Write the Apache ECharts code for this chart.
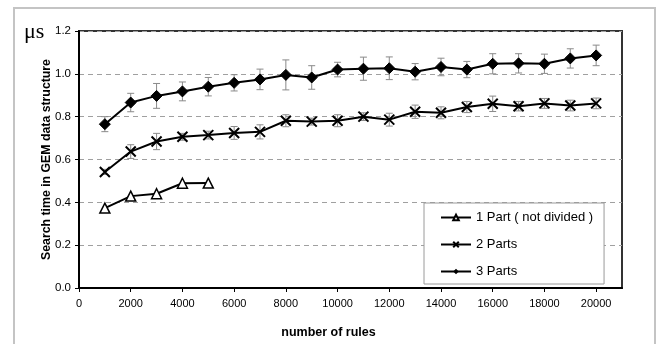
<!DOCTYPE html>
<html>
<head>
<meta charset="utf-8">
<script src="https://cdn.jsdelivr.net/npm/echarts@6/dist/echarts.min.js"></script>
<style>html,body{margin:0;padding:0;background:#fff}#c{width:662px;height:344px}</style>
</head>
<body>
<div id="c"></div>
<script>
const rules = [1000,2000,3000,4000,5000,6000,7000,8000,9000,10000,11000,12000,13000,14000,15000,16000,17000,18000,19000,20000];
const part1 = [0.373,0.429,0.440,0.489,0.490];
const part2 = [0.542,0.637,0.684,0.706,0.714,0.724,0.729,0.781,0.777,0.781,0.800,0.786,0.823,0.818,0.845,0.860,0.849,0.862,0.852,0.862];
const part2Err = [0.012,0.032,0.038,0.016,0.018,0.030,0.033,0.028,0.016,0.028,0.018,0.030,0.031,0.028,0.026,0.036,0.022,0.023,0.025,0.025];
const part3 = [0.765,0.866,0.897,0.918,0.940,0.958,0.974,0.995,0.983,1.020,1.024,1.026,1.010,1.032,1.020,1.047,1.049,1.047,1.072,1.086];
const part3Err = [0.035,0.043,0.058,0.044,0.043,0.038,0.048,0.070,0.055,0.034,0.054,0.053,0.038,0.041,0.038,0.047,0.045,0.045,0.045,0.048];
const names = ['1 Part ( not divided )','2 Parts','3 Parts'];
const xTicks = [0,2000,4000,6000,8000,10000,12000,14000,16000,18000,20000];

const pts = (ys) => ys.map((v,i)=>[rules[i], v]);
const errs = (ys, es) => ys.map((v,i)=>[rules[i], v, es[i]]);

function errRender(params, api){
  const x = api.value(0), y = api.value(1), e = api.value(2);
  const t = api.coord([x, y+e]), b = api.coord([x, y-e]);
  const hw = 3.5, st = {stroke:'#8a8a8a', lineWidth:1};
  return {type:'group', children:[
    {type:'line', shape:{x1:t[0],y1:t[1],x2:b[0],y2:b[1]}, style:st},
    {type:'line', shape:{x1:t[0]-hw,y1:t[1],x2:t[0]+hw,y2:t[1]}, style:st},
    {type:'line', shape:{x1:b[0]-hw,y1:b[1],x2:b[0]+hw,y2:b[1]}, style:st}
  ]};
}

const chart = echarts.init(document.getElementById('c'), null, {renderer:'canvas'});
const FONT = 'Liberation Sans, Arial, sans-serif';
chart.setOption({
  animation:false,
  backgroundColor:'#fff',
  textStyle:{fontFamily:FONT},
  graphic:[
    {type:'rect', shape:{x:14,y:8,width:641,height:350}, style:{fill:'none', stroke:'#c4c4c4', lineWidth:2}, z:-10},
    {type:'text', left:24, top:21, style:{text:'μs', font:'22px "Liberation Serif", "DejaVu Serif", serif', fill:'#000'}}
  ],
  grid:{left:79, top:31, right:40, bottom:53, show:true, borderColor:'#333', borderWidth:2, backgroundColor:'transparent'},
  legend:{
    data:names, orient:'vertical', left:424, top:203,
    backgroundColor:'#fff', borderColor:'#9a9a9a', borderWidth:1,
    padding:[8,11,6,16], itemGap:14, itemWidth:30, itemHeight:7,
    textStyle:{fontSize:13, color:'#000', fontFamily:FONT}
  },
  xAxis:{
    type:'value', min:0, max:21000, interval:2000,
    name:'number of rules', nameLocation:'middle', nameGap:38, nameMoveOverlap:false,
    nameTextStyle:{fontWeight:'bold', fontSize:12.5, color:'#000', padding:[0,44,0,0]},
    axisLine:{show:true, onZero:false, lineStyle:{color:'#000', width:2}},
    axisTick:{show:true, length:4, lineStyle:{color:'#000'}},
    axisLabel:{fontSize:11, color:'#000', margin:10, showMaxLabel:false,
      formatter:(v)=> xTicks.indexOf(v)>=0 ? String(v) : ''},
    splitLine:{show:false}
  },
  yAxis:{
    type:'value', min:0, max:1.2, interval:0.2,
    name:'Search time in GEM data structure', nameLocation:'middle', nameGap:26, nameRotate:90, nameMoveOverlap:false,
    nameTextStyle:{fontWeight:'bold', fontSize:12.3, color:'#000'},
    axisLine:{show:true, lineStyle:{color:'#000', width:2}},
    axisTick:{show:true, length:4, lineStyle:{color:'#000'}},
    axisLabel:{fontSize:11.5, color:'#000', margin:8, formatter:(v)=>v.toFixed(1)},
    splitLine:{show:true, lineStyle:{color:'#a0a0a0', type:[5,4], width:1}}
  },
  series:[
    {type:'custom', name:'err2', renderItem:errRender, data:errs(part2, part2Err), encode:{x:0,y:1}, z:1, silent:true},
    {type:'custom', name:'err3', renderItem:errRender, data:errs(part3, part3Err), encode:{x:0,y:1}, z:1, silent:true},
    {type:'line', name:names[0], data:pts(part1), symbol:'triangle', symbolSize:10,
      lineStyle:{color:'#000', width:2}, itemStyle:{color:'#fff', borderColor:'#000', borderWidth:1.5}, z:3},
    {type:'line', name:names[1], data:pts(part2), symbol:'path://M0,0L10,10M10,0L0,10', symbolSize:10,
      lineStyle:{color:'#000', width:2}, itemStyle:{color:'none', borderColor:'#000', borderWidth:2}, z:3},
    {type:'line', name:names[2], data:pts(part3), symbol:'diamond', symbolSize:11,
      lineStyle:{color:'#000', width:2}, itemStyle:{color:'#000', borderColor:'#000'}, z:3}
  ]
});
</script>
</body>
</html>
